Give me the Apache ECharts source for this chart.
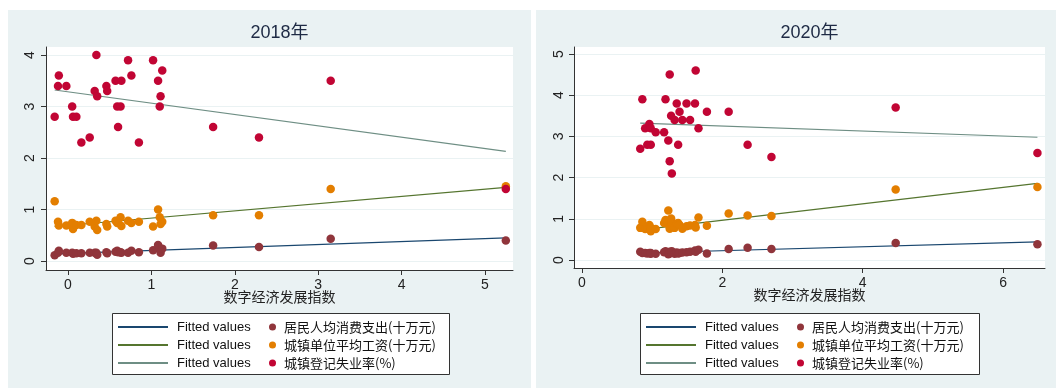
<!DOCTYPE html>
<html>
<head>
<meta charset="utf-8">
<script src="https://cdn.jsdelivr.net/npm/echarts@6/dist/echarts.min.js"></script>
<style>
  html, body { margin: 0; padding: 0; background: #ffffff; width: 1056px; height: 388px; overflow: hidden; }
  .panel { position: absolute; }
</style>
</head>
<body>
<div id="p2018" class="panel" style="left:8px;top:10px;width:523px;height:378px;"></div>
<div id="p2020" class="panel" style="left:536px;top:10px;width:520px;height:378px;"></div>
<script>
// ---------------- data ----------------
const panelTitles = ['2018年', '2020年'];
const xAxisTitle = '数字经济发展指数';
const fitLabel = 'Fitted values';
const scatterNames = ['居民人均消费支出(十万元)', '城镇单位平均工资(十万元)', '城镇登记失业率(%)'];

// 2018
const x2018 = [-0.16, -0.12, -0.11, -0.02, 0.05, 0.06, 0.10, 0.16, 0.26, 0.32, 0.34, 0.35, 0.46, 0.47, 0.57, 0.59,
               0.60, 0.63, 0.64, 0.72, 0.76, 0.85, 1.02, 1.08, 1.10, 1.11, 1.13, 1.74, 2.29, 3.15, 5.25];
const cons2018 = [0.11, 0.16, 0.20, 0.16, 0.16, 0.14, 0.15, 0.15, 0.16, 0.16, 0.16, 0.12, 0.17, 0.15, 0.18, 0.20,
                  0.17, 0.17, 0.16, 0.16, 0.20, 0.17, 0.21, 0.31, 0.25, 0.16, 0.24, 0.30, 0.27, 0.43, 0.40];
const wage2018 = [1.16, 0.76, 0.69, 0.69, 0.74, 0.62, 0.70, 0.70, 0.76, 0.67, 0.78, 0.60, 0.72, 0.67, 0.78, 0.74,
                  0.78, 0.85, 0.68, 0.78, 0.74, 0.76, 0.67, 1.00, 0.85, 0.72, 0.76, 0.89, 0.89, 1.40, 1.45];
const unemp2018 = [2.8, 3.4, 3.6, 3.4, 3.0, 2.8, 2.8, 2.3, 2.4, 3.3, 4.0, 3.2, 3.4, 3.3, 3.5, 3.0,
                   2.6, 3.0, 3.5, 3.9, 3.6, 2.3, 3.9, 3.5, 3.0, 3.2, 3.7, 2.6, 2.4, 3.5, 1.4];
const fitX2018 = [-0.16, 5.25];
const fitCons2018 = [0.14, 0.45];
const fitWage2018 = [0.67, 1.43];
const fitUnemp2018 = [3.32, 2.13];
const xTicks2018 = [0, 1, 2, 3, 4, 5];
const yTicks2018 = [0, 1, 2, 3, 4];

// 2020
const x2020 = [0.83, 0.86, 0.90, 0.93, 0.96, 0.98, 0.98, 1.05, 1.17, 1.19, 1.23, 1.25, 1.25, 1.27, 1.28, 1.32,
               1.35, 1.37, 1.39, 1.43, 1.49, 1.54, 1.61, 1.62, 1.66, 1.78, 2.09, 2.36, 2.70, 4.47, 6.49];
const cons2020 = [0.20, 0.17, 0.17, 0.16, 0.17, 0.15, 0.17, 0.15, 0.19, 0.21, 0.14, 0.20, 0.16, 0.18, 0.21, 0.15,
                  0.18, 0.16, 0.17, 0.18, 0.19, 0.20, 0.23, 0.20, 0.25, 0.16, 0.27, 0.30, 0.27, 0.41, 0.38];
const wage2020 = [0.78, 0.93, 0.75, 0.80, 0.85, 0.70, 0.78, 0.75, 0.90, 0.97, 1.20, 0.80, 0.76, 1.01, 0.90, 0.78,
                  0.88, 0.90, 0.85, 0.76, 0.82, 0.84, 0.85, 0.79, 1.03, 0.83, 1.13, 1.08, 1.07, 1.71, 1.77];
const unemp2020 = [2.7, 3.9, 3.2, 2.8, 3.3, 3.2, 2.8, 3.1, 3.1, 3.9, 2.9, 4.5, 2.4, 3.5, 2.1, 3.4,
                   3.8, 2.8, 3.6, 3.4, 3.8, 3.4, 3.8, 4.6, 3.2, 3.6, 3.6, 2.8, 2.5, 3.7, 2.6];
const fitX2020 = [0.83, 6.49];
const fitCons2020 = [0.17, 0.44];
const fitWage2020 = [0.73, 1.86];
const fitUnemp2020 = [3.32, 2.98];
const xTicks2020 = [0, 2, 4, 6];
const yTicks2020 = [0, 1, 2, 3, 4, 5];

// ---------------- styling / layout ----------------
const lineColors = ['#1a476f', '#55752f', '#6e8e84'];
const dotColors = ['#90353b', '#e37e00', '#c10534'];
const bg = '#eaf2f3';
const latin = "'Liberation Sans', Arial, 'Noto Sans CJK SC', sans-serif";

const panels = [
  { el: 'p2018', title: panelTitles[0], x: x2018, ys: [cons2018, wage2018, unemp2018],
    fitX: fitX2018, fits: [fitCons2018, fitWage2018, fitUnemp2018],
    xTicks: xTicks2018, yTicks: yTicks2018,
    xMin: -0.264, xMax: 5.336, yMin: -0.175, yMax: 4.155,
    grid: { left: 38, top: 37, width: 467, height: 223 }, yLabelMargin: 9, boxW: 337 },
  { el: 'p2020', title: panelTitles[1], x: x2020, ys: [cons2020, wage2020, unemp2020],
    fitX: fitX2020, fits: [fitCons2020, fitWage2020, fitUnemp2020],
    xTicks: xTicks2020, yTicks: yTicks2020,
    xMin: -0.114, xMax: 6.598, yMin: -0.194, yMax: 5.17,
    grid: { left: 38, top: 37, width: 471, height: 221 }, yLabelMargin: 8, boxW: 339 }
];

panels.forEach(function (p) {
  const chart = echarts.init(document.getElementById(p.el), null, { renderer: 'canvas' });
  const series = [];
  const fitNames = [];
  for (let k = 0; k < 3; k++) {
    const fname = fitLabel + '\u200b'.repeat(k);
    fitNames.push(fname);
    series.push({
      type: 'line', name: fname, symbol: 'none', showSymbol: false, silent: true,
      data: [[p.fitX[0], p.fits[k][0]], [p.fitX[1], p.fits[k][1]]],
      lineStyle: { color: lineColors[k], width: 1.2 }, itemStyle: { color: lineColors[k] },
      z: 2 + k * 2
    });
    series.push({
      type: 'scatter', name: scatterNames[k], symbol: 'circle', symbolSize: 8.5,
      data: p.x.map(function (xv, i) { return [xv, p.ys[k][i]]; }),
      itemStyle: { color: dotColors[k], opacity: 1 },
      z: 3 + k * 2
    });
  }
  chart.setOption({
    backgroundColor: bg,
    animation: false,
    title: {
      text: p.title, left: p.grid.left + p.grid.width / 2, top: 14, textAlign: 'center', padding: 0,
      textStyle: { fontFamily: latin, fontSize: 18, fontWeight: 'normal', color: '#1e2a44' }
    },
    grid: Object.assign({ show: true, backgroundColor: '#ffffff', borderWidth: 0 }, p.grid),
    xAxis: {
      type: 'value', min: p.xMin, max: p.xMax,
      name: xAxisTitle, nameLocation: 'middle', nameGap: 20, nameMoveOverlap: false,
      nameTextStyle: { fontFamily: "'Noto Sans CJK SC', sans-serif", fontSize: 14, color: '#222', verticalAlign: 'top' },
      axisLine: { show: true, onZero: false, lineStyle: { color: '#333', width: 1 } },
      axisTick: { show: true, inside: false, length: 5, customValues: p.xTicks, lineStyle: { color: '#333' } },
      axisLabel: { customValues: p.xTicks, margin: 8, fontFamily: latin, fontSize: 14, color: '#222',
                   formatter: function (v) { return String(v); } },
      splitLine: { show: false }
    },
    yAxis: {
      type: 'value', min: p.yMin, max: p.yMax,
      axisLine: { show: true, onZero: false, lineStyle: { color: '#333', width: 1 } },
      axisTick: { show: true, inside: false, length: 5, customValues: p.yTicks, lineStyle: { color: '#333' } },
      axisLabel: { customValues: p.yTicks, rotate: 90, margin: p.yLabelMargin, fontFamily: latin, fontSize: 14, color: '#222',
                   formatter: function (v) { return String(v); } },
      splitLine: { show: true, lineStyle: { color: bg, width: 1.2 } }
    },
    legend: [
      { data: fitNames, orient: 'vertical', left: 109, top: 310, itemWidth: 50, itemHeight: 14, itemGap: 4,
        padding: 0, selectedMode: false,
        itemStyle: { opacity: 0, borderWidth: 0 },
        formatter: function () { return fitLabel; },
        textStyle: { padding: [0, 0, 0, 4], fontFamily: latin, fontSize: 13, color: '#111', lineHeight: 14 } },
      { data: scatterNames, orient: 'vertical', left: 261, top: 310, itemWidth: 7, itemHeight: 14, itemGap: 4,
        padding: 0, selectedMode: false,
        textStyle: { padding: [0, 0, 0, 3], fontFamily: "'Noto Sans CJK SC', 'Liberation Sans', sans-serif",
                     fontSize: 13, color: '#111', lineHeight: 14 } }
    ],
    graphic: [
      { type: 'rect', left: 104, top: 303, z: 0,
        shape: { width: p.boxW, height: 61 },
        style: { fill: '#ffffff', stroke: '#333', lineWidth: 1 } }
    ],
    series: series
  });
});
</script>
</body>
</html>
